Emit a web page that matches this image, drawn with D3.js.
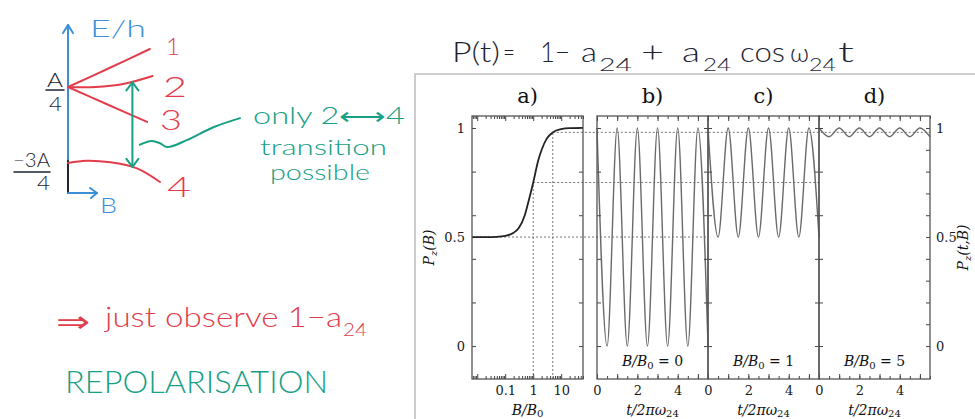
<!DOCTYPE html>
<html>
<head>
<meta charset="utf-8">
<script src="https://cdn.jsdelivr.net/npm/d3@7"></script>
<style>
    body { margin: 0; background: #fff; }
    svg { display: block; }
    .tick text { font-family: "DejaVu Serif", serif; font-size: 13px; fill: #1a1a1a; }
</style>
</head>
<body>
<svg id="figure"></svg>
<script>
// ---- hand sketch: energy levels vs field (B arbitrary units, E in units of A)
var level1B = [0, 0.45, 0.89];
var level1E = [0.25, 0.5, 0.75];
var level2B = [0, 0.3, 0.6, 0.92];
var level2E = [0.25, 0.25, 0.29, 0.395];
var level3B = [0, 0.43, 0.86];
var level3E = [0.25, 0.02, -0.21];
var level4B = [0, 0.2, 0.46, 0.75, 1.0];
var level4E = [-0.75, -0.72, -0.74, -0.82, -1.0];
var transitionB = 0.7;
var transitionE = [0.31, -0.8];
var squiggleB = [0.78, 0.91, 1.0, 1.08, 1.29, 1.58, 1.87];
var squiggleE = [-0.51, -0.46, -0.49, -0.54, -0.45, -0.28, -0.16];

// ---- panel a: polarisation vs B/B0
var fieldRatio = [0.0065, 0.02, 0.05, 0.1, 0.2, 0.3, 0.5, 0.7, 1, 1.5, 2, 3, 5, 10, 20, 60];
var pzOfB = [0.5, 0.5, 0.501, 0.505, 0.52, 0.54, 0.6, 0.67, 0.75, 0.85, 0.9, 0.95, 0.98, 0.995, 0.999, 1];

// ---- panels b-d: P(t) extrema at half periods
var oscTimes = [0, 0.5, 1, 1.5, 2, 2.5, 3, 3.5, 4, 4.5, 5, 5.5];
var oscB0 = [1, 0, 1, 0, 1, 0, 1, 0, 1, 0, 1, 0];
var oscB1 = [1, 0.5, 1, 0.5, 1, 0.5, 1, 0.5, 1, 0.5, 1, 0.5];
var oscB5 = [1, 0.96, 1, 0.96, 1, 0.96, 1, 0.96, 1, 0.96, 1, 0.96];
var oscRatios = [0, 1, 5];
var meanPz = [0.5, 0.75, 0.98];

var panelNames = ["a)", "b)", "c)", "d)"];
var bTickLabels = [0.1, 1, 10];
var tTickLabels = [0, 2, 4];
var pzTickLabels = [0, 0.5, 1];

var red = "#e23d4b", blue = "#3b8fd9", green = "#17a084", ink = "#1d2433";
var hand = "Lato, 'Noto Sans', sans-serif";
var serif = "'DejaVu Serif', serif";

var svg = d3.select("#figure").attr("width", 975).attr("height", 419);
svg.append("rect").attr("width", 975).attr("height", 419).attr("fill", "#fff");

// ======================= sketch =======================
var xE = d3.scaleLinear().domain([0, 1]).range([68, 160]);
var yE = d3.scaleLinear().domain([-1, 0.25]).range([182, 87]);

var sketch = svg.append("g").attr("fill", "none").attr("stroke-linecap", "round").attr("stroke-linejoin", "round");

// axes
sketch.append("line")
    .attr("x1", xE(0)).attr("y1", yE(-1.145)).attr("x2", xE(0)).attr("y2", yE(1.066))
    .attr("stroke", blue).attr("stroke-width", 2);
sketch.append("line")
    .attr("x1", xE(0)).attr("y1", yE(-1.145)).attr("x2", xE(0)).attr("y2", yE(-0.72))
    .attr("stroke", ink).attr("stroke-width", 2);
sketch.append("polyline")
    .attr("points", [[xE(0) - 5, yE(1.066) + 8], [xE(0), yE(1.066)], [xE(0) + 5, yE(1.066) + 8]].join(" "))
    .attr("stroke", blue).attr("stroke-width", 2);
sketch.append("line")
    .attr("x1", xE(0)).attr("y1", yE(-1.145)).attr("x2", xE(0.315)).attr("y2", yE(-1.145))
    .attr("stroke", blue).attr("stroke-width", 2);
sketch.append("polyline")
    .attr("points", [[xE(0.315) - 7, yE(-1.145) - 5], [xE(0.315), yE(-1.145)], [xE(0.315) - 6, yE(-1.145) + 5]].join(" "))
    .attr("stroke", blue).attr("stroke-width", 2);

var levelLine = d3.line()
    .x(function (d) { return xE(d[0]); })
    .y(function (d) { return yE(d[1]); })
    .curve(d3.curveCatmullRom);

[[level1B, level1E], [level2B, level2E], [level3B, level3E], [level4B, level4E]].forEach(function (lv) {
    sketch.append("path")
        .attr("d", levelLine(d3.zip(lv[0], lv[1])))
        .attr("stroke", red).attr("stroke-width", 2);
});

// transition arrow 2 <-> 4
var ax = xE(transitionB), ayTop = yE(transitionE[0]), ayBot = yE(transitionE[1]);
sketch.append("line").attr("x1", ax).attr("y1", ayTop).attr("x2", ax).attr("y2", ayBot)
    .attr("stroke", green).attr("stroke-width", 2);
sketch.append("polyline").attr("points", [[ax - 6, ayTop + 8], [ax, ayTop], [ax + 6, ayTop + 8]].join(" "))
    .attr("stroke", green).attr("stroke-width", 2);
sketch.append("polyline").attr("points", [[ax - 6, ayBot - 8], [ax, ayBot], [ax + 6, ayBot - 8]].join(" "))
    .attr("stroke", green).attr("stroke-width", 2);
sketch.append("path")
    .attr("d", levelLine(d3.zip(squiggleB, squiggleE)))
    .attr("stroke", green).attr("stroke-width", 2);

function handText(str, x, y, size, color, len) {
    var t = svg.append("text")
        .attr("x", x).attr("y", y)
        .attr("font-family", hand).attr("font-size", size).attr("font-weight", 300)
        .attr("fill", color).text(str);
    if (len) t.attr("textLength", len).attr("lengthAdjust", "spacingAndGlyphs");
    return t;
}

handText("E/h", 90, 37, 24, blue, 56);
handText("1", 166, 55, 24, red);
handText("2", 163, 97, 28, red, 24);
handText("3", 160, 130, 28, red, 22);
handText("4", 167, 197, 28, red, 24);
handText("B", 100, 213, 22, blue, 17);
handText("A", 47, 87, 20, ink, 16);
handText("4", 49, 111, 20, ink, 13);
handText("\u22123A", 13, 167, 19, ink, 37);
handText("4", 37, 190, 19, ink, 13);
sketch.append("line").attr("x1", 46).attr("x2", 64).attr("y1", 90).attr("y2", 90).attr("stroke", ink).attr("stroke-width", 1.5);
sketch.append("line").attr("x1", 14).attr("x2", 50).attr("y1", 172).attr("y2", 172).attr("stroke", ink).attr("stroke-width", 1.5);

handText("only 2\u27F74", 253, 124, 23, green, 152);
handText("transition", 260, 155, 22, green, 127);
handText("possible", 270, 180, 22, green, 100);

handText("\u21D2", 56, 332, 30, red, 34);
handText("just observe 1\u2212a", 105, 327, 28, red, 237);
handText("24", 343, 336, 17, red, 24);
handText("REPOLARISATION", 65, 393, 32, green, 263);

// formula
var formula = [
    ["P(t)", 452, 62, 28, 48], ["=", 503, 62, 28, 12], ["1\u2212", 540, 62, 28, 30],
    ["a", 581, 62, 28, 16], ["24", 599, 71, 18, 33], ["+", 641, 62, 28, 23],
    ["a", 682, 62, 28, 18], ["24", 703, 71, 18, 28], ["cos", 740, 62, 28, 45],
    ["\u03C9", 790, 62, 26, 19], ["24", 809, 71, 18, 27], ["t", 838, 62, 28, 16]
];
formula.forEach(function (f) { handText(f[0], f[1], f[2], f[3], ink, f[4]); });

// screenshot frame
svg.append("path").attr("d", "M415,419V74H975")
    .attr("fill", "none").attr("stroke", "#bdbdbd").attr("stroke-width", 1.5);

// ======================= plot =======================
var plotTop = 116, plotBottom = 379, panelW = 111;
var yPz = d3.scaleLinear().domain([-0.151, 1.055]).range([plotBottom, plotTop]);
var xB = d3.scaleLog().domain([0.0065, 60]).range([472, 583]);
var panelX0 = [472, 597, 708, 819];
var xT = [597, 708, 819].map(function (x0) {
    return d3.scaleLinear().domain([0, 5.5]).range([x0, x0 + panelW]);
});

var plot = svg.append("g");

// guide lines
var guides = plot.append("g").attr("stroke", "#777").attr("stroke-width", 1).attr("stroke-dasharray", "2,2");
oscRatios.forEach(function (r, i) {
    var xs = r === 0 ? xB.range()[0] : xB(r);
    guides.append("line")
        .attr("x1", xs).attr("x2", xT[i].range()[1])
        .attr("y1", yPz(meanPz[i])).attr("y2", yPz(meanPz[i]));
    if (r > 0) {
        guides.append("line")
            .attr("x1", xB(r)).attr("x2", xB(r))
            .attr("y1", plotBottom).attr("y2", yPz(meanPz[i]));
    }
});

// curve a
var lineA = d3.line()
    .x(function (d) { return xB(d[0]); })
    .y(function (d) { return yPz(d[1]); })
    .curve(d3.curveMonotoneX);
plot.append("path")
    .attr("d", lineA(d3.zip(fieldRatio, pzOfB)))
    .attr("fill", "none").attr("stroke", "#222").attr("stroke-width", 1.8);

// curves b-d
[oscB0, oscB1, oscB5].forEach(function (series, i) {
    var ln = d3.line()
        .x(function (d) { return xT[i](d[0]); })
        .y(function (d) { return yPz(d[1]); })
        .curve(d3.curveMonotoneX);
    plot.append("path")
        .attr("d", ln(d3.zip(oscTimes, series)))
        .attr("fill", "none").attr("stroke", "#6a6a6a").attr("stroke-width", 1.4);
});

// ticks
var pzTicks02 = [0, 0.2, 0.4, 0.6, 0.8, 1];
var pzTicks01 = d3.range(0, 11).map(function (k) { return k / 10; });
var bMajor = [0.01, 0.1, 1, 10];
var bMinor = [];
[0.001, 0.01, 0.1, 1, 10].forEach(function (dec) {
    for (var m = 2; m < 10; m++) {
        var v = dec * m;
        if (v >= 0.0065 && v <= 60) bMinor.push(v);
    }
});
var tMinor = d3.range(0, 12).map(function (k) { return k / 2; });
var tMajor = [0, 1, 2, 3, 4, 5];

function tickAxis(axis, transform) {
    var g = plot.append("g").attr("transform", transform).call(axis);
    g.select(".domain").remove();
    g.selectAll(".tick line").attr("stroke", "#444").attr("stroke-width", 1);
    return g;
}

var xScales = [xB].concat(xT);
xScales.forEach(function (xs, i) {
    var x0 = panelX0[i], x1 = x0 + panelW;
    var isLog = i === 0;
    var minor = isLog ? bMinor : tMinor;
    var major = isLog ? bMajor : tMajor;
    tickAxis(d3.axisBottom(xs).tickValues(minor).tickSize(-3).tickFormat(""), "translate(0," + plotBottom + ")");
    tickAxis(d3.axisBottom(xs).tickValues(major).tickSize(-5).tickFormat(""), "translate(0," + plotBottom + ")");
    tickAxis(d3.axisTop(xs).tickValues(minor).tickSize(-3).tickFormat(""), "translate(0," + plotTop + ")");
    tickAxis(d3.axisTop(xs).tickValues(major).tickSize(-5).tickFormat(""), "translate(0," + plotTop + ")");
    tickAxis(d3.axisLeft(yPz).tickValues(pzTicks02).tickSize(-4).tickFormat(""), "translate(" + x0 + ",0)");
    tickAxis(d3.axisRight(yPz).tickValues(i === 3 ? pzTicks01 : pzTicks02).tickSize(-4).tickFormat(""), "translate(" + x1 + ",0)");

    // tick labels
    tickAxis(d3.axisBottom(xs).tickValues(isLog ? bTickLabels : tTickLabels).tickSize(0).tickPadding(7)
        .tickFormat(function (d) { return String(d); }), "translate(0," + plotBottom + ")");

    // frame
    plot.append("rect")
        .attr("x", x0).attr("y", plotTop).attr("width", panelW).attr("height", plotBottom - plotTop)
        .attr("fill", "none").attr("stroke", "#555").attr("stroke-width", 1.3);

    // panel letter
    plot.append("text")
        .attr("x", x0 + panelW / 2).attr("y", 103)
        .attr("text-anchor", "middle")
        .attr("font-family", serif).attr("font-size", 21).attr("fill", "#111")
        .text(panelNames[i]);

    // x title
    var xt = plot.append("text")
        .attr("x", x0 + panelW / 2).attr("y", 415)
        .attr("text-anchor", "middle")
        .attr("font-family", serif).attr("font-size", 14).attr("font-style", "italic").attr("fill", "#111");
    if (isLog) {
        xt.append("tspan").text("B/B");
        xt.append("tspan").attr("font-size", 10).attr("dy", 2).attr("font-style", "normal").text("0");
    } else {
        xt.append("tspan").text("t/2\u03C0\u03C9");
        xt.append("tspan").attr("font-size", 10).attr("dy", 2).attr("font-style", "normal").text("24");

        var fl = plot.append("text")
            .attr("x", x0 + panelW / 2).attr("y", 366)
            .attr("text-anchor", "middle")
            .attr("font-family", serif).attr("font-size", 14).attr("fill", "#111");
        fl.append("tspan").attr("font-style", "italic").text("B/B");
        fl.append("tspan").attr("font-size", 10).attr("dy", 3).text("0");
        fl.append("tspan").attr("dy", -3).text(" = " + oscRatios[i - 1]);
    }
});

// y tick labels
tickAxis(d3.axisLeft(yPz).tickValues(pzTickLabels).tickSize(0).tickPadding(7).tickFormat(function (d) { return String(d); }),
    "translate(" + panelX0[0] + ",0)");
tickAxis(d3.axisRight(yPz).tickValues(pzTickLabels).tickSize(0).tickPadding(6).tickFormat(function (d) { return String(d); }),
    "translate(" + (panelX0[3] + panelW) + ",0)");

// y titles
function yTitle(x, parts) {
    var t = plot.append("text")
        .attr("transform", "translate(" + x + "," + ((plotTop + plotBottom) / 2) + ") rotate(-90)")
        .attr("text-anchor", "middle")
        .attr("font-family", serif).attr("font-size", 14).attr("font-style", "italic").attr("fill", "#111");
    t.append("tspan").text("P");
    t.append("tspan").attr("font-size", 10).attr("dy", 3).text("z");
    t.append("tspan").attr("dy", -3).text(parts);
}
yTitle(434, "(B)");
yTitle(968, "(t,B)");
</script>
</body>
</html>
